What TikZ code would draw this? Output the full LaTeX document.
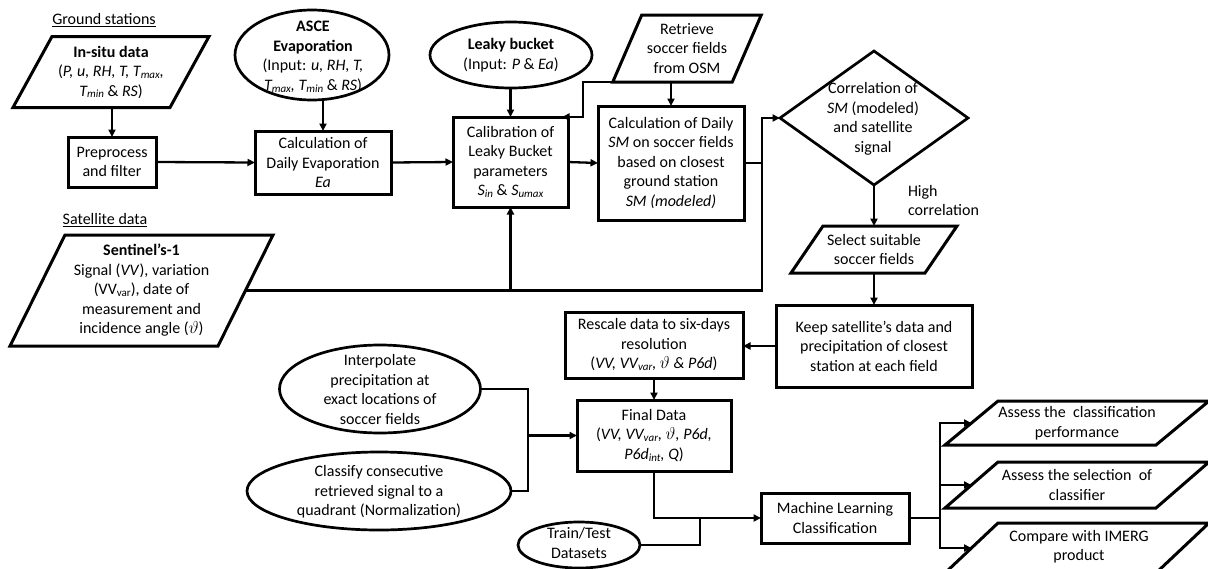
\documentclass[tikz,border=0pt]{standalone}
\usepackage{fontspec}
\setmainfont{Carlito}
\usetikzlibrary{shapes.geometric,arrows.meta,calc}

% small lowered index, as in T_max or VV_var
\newcommand\lowidx[1]{\raisebox{-0.25ex}{\fontsize{11}{11}\selectfont #1}}

\tikzset{
  every node/.style={font=\fontsize{16}{19.5}\selectfont, inner sep=0pt, outer sep=0pt},
  box/.style={draw, line width=3pt, rectangle, align=center},
  oval/.style={draw, line width=2.7pt, ellipse},
  rhomb/.style={draw, line width=2.7pt, diamond},
  pbody/.style={rectangle, align=center},
  lbl/.style={align=center},
  pedge/.style={draw, line width=3pt, line join=miter},
  conn/.style={line width=2.3pt},
  arr/.style={conn, -{Triangle[length=7.5pt,width=7pt]}},
}

% outline of a slanted (parallelogram) box around a rectangular body node
\newcommand\slantbox[2]{%
  \path[pedge] ([xshift=#2]#1.north west) -- ([xshift=#2]#1.north east)
    -- ([xshift=-#2]#1.south east) -- ([xshift=-#2]#1.south west) -- cycle;}

\begin{document}
\begin{tikzpicture}[x=1pt,y=-1pt]
\useasboundingbox (0,0) rectangle (1208,568);

% section titles
\node (gs) at (104,20) {\underline{Ground stations}};
\node (sd) at (105,220) {\underline{Satellite data}};

% ground station branch
\node[pbody, minimum width=157pt, minimum height=71pt] (insitu) at (111,72)
  {\textbf{In-situ data}\\(\textit{P, u, RH, T, T\lowidx{max},}\\\textit{T\lowidx{min}} \& \textit{RS})};
\slantbox{insitu}{19.5pt}

\node[box, minimum width=88pt, minimum height=50pt] (pre) at (112,162) {Preprocess\\and filter};

\node[oval, minimum width=154pt, minimum height=90pt] (asce) at (312,55) {};
\node[lbl] (ascet) at (313,57) {\textbf{ASCE}\\\textbf{Evaporation}\\(Input: \textit{u, RH, T,}\\\textit{T\lowidx{max}, T\lowidx{min}} \& \textit{RS})};

\node[box, minimum width=136pt, minimum height=63pt] (calc) at (323,162.5)
  {Calculation of\\Daily Evaporation\\\textit{Ea}};

\node[oval, minimum width=162pt, minimum height=66pt] (leaky) at (511,55) {};
\node[lbl] (leakyt) at (511,55) {\textbf{Leaky bucket}\\(Input: \textit{P} \& \textit{Ea})};

\node[box, minimum width=115pt, minimum height=90pt] (calib) at (510.5,162)
  {Calibration of\\Leaky Bucket\\parameters\\\textit{S\lowidx{in}} \& \textit{S\lowidx{umax}}};

\node[pbody, minimum width=119.5pt, minimum height=67pt] (osm) at (687,48.5)
  {Retrieve\\soccer fields\\from OSM};
\slantbox{osm}{14.5pt}

\node[box, minimum width=146pt, minimum height=114pt] (smcalc) at (671,163)
  {Calculation of Daily\\\textit{SM} on soccer fields\\based on closest\\ground station\\\textit{SM (modeled)}};

\node[rhomb, minimum width=188pt, minimum height=134pt] (corr) at (874,118) {};
\node[lbl] (corrt) at (873,119) {Correlation of\\\textit{SM} (modeled)\\and satellite\\signal};

\node[align=left, anchor=west] (hc) at (908,200.5) {High\\correlation};

\node[pbody, minimum width=134pt, minimum height=47pt] (select) at (874,249.5)
  {Select suitable\\soccer fields};
\slantbox{select}{16pt}

% satellite branch
\node[pbody, minimum width=208pt, minimum height=111pt] (sent) at (141.5,290.5)
  {\textbf{Sentinel’s-1}\\Signal (\textit{VV}), variation\\(VV\lowidx{var}), date of\\measurement and\\incidence angle ($\vartheta$)};
\slantbox{sent}{27.5pt}

\node[box, minimum width=196pt, minimum height=82pt] (keep) at (874,346)
  {Keep satellite’s data and\\precipitation of closest\\station at each field};

\node[box, minimum width=178pt, minimum height=66pt] (rescale) at (654,345)
  {Rescale data to six-days\\resolution\\(\textit{VV, VV\lowidx{var}, $\vartheta$ \& P6d})};

\node[box, minimum width=154pt, minimum height=71pt] (final) at (654,435.5)
  {Final Data\\(\textit{VV, VV\lowidx{var}, $\vartheta$, P6d,}\\\textit{P6d\lowidx{int}, Q})};

\node[oval, minimum width=201pt, minimum height=88pt] (interp) at (380,389) {};
\node[lbl] (interpt) at (380,389.5) {Interpolate\\precipitation at\\exact locations of\\soccer fields};

\node[oval, minimum width=264pt, minimum height=78pt] (classify) at (379,491) {};
\node[lbl] (classifyt) at (379,492) {Classify consecutive\\retrieved signal to a\\quadrant (Normalization)};

\node[oval, minimum width=122pt, minimum height=46pt] (train) at (579,545) {};
\node[lbl] (traint) at (579,543) {Train/Test\\Datasets};

\node[box, minimum width=148pt, minimum height=50pt] (ml) at (835,518)
  {Machine Learning\\Classification};

\node[pbody, minimum width=211pt, minimum height=44pt] (out1) at (1077,423)
  {Assess the\ \ classification\\performance};
\slantbox{out1}{26.5pt}
\node[pbody, minimum width=211pt, minimum height=46pt] (out2) at (1077,485)
  {Assess the selection\ \ of\\classifier};
\slantbox{out2}{26.5pt}
% last output runs past the lower edge of the page
\node[pbody, minimum width=211pt, minimum height=50pt] (out3) at (1077,548) {};
\slantbox{out3}{26.5pt}
\node[lbl] (out3t) at (1079,546.5) {Compare with IMERG\\product};

% junction points
\coordinate (bus) at ([xshift=18pt]smcalc.east);
\coordinate (jin) at ([xshift=-49pt]final.west);
\coordinate (jtr) at ([xshift=-61pt]ml.west);
\coordinate (jout) at ([xshift=31pt]ml.east);
\coordinate (osmc) at ([xshift=-14.5pt]osm.south west);

% connectors
\draw[arr] (pre.north |- insitu.south) -- (pre.north);
\draw[arr] (pre.east) -- (calc.west);
\draw[arr] (calc.north |- asce.south) -- (calc.north);
\draw[arr] (calc.east) -- (calib.west);
\draw[arr] (calib.north |- leaky.south) -- (calib.north);
\draw[arr] (osmc) -| ([xshift=15pt]calib.north east) -- ([xshift=-6pt]calib.north east);
\draw[arr] (smcalc.north |- osm.south) -- (smcalc.north);
\draw[arr] (calib.east) -- (smcalc.west);
\draw[conn] (smcalc.east) -- (bus);
\draw[arr] (sent.east) -| (bus |- corr.west) -- (corr.west);
\draw[arr] (calib.south |- sent.east) -- (calib.south);
\draw[arr] (corr.south) -- (select.north);
\draw[arr] (select.south) -- (keep.north);
\draw[arr] (keep.west) -- (keep.west -| rescale.east);
\draw[arr] (rescale.south) -- (final.north);
\draw[conn] (interp.east) -| (jin) |- (classify.east);
\draw[arr] (jin) -- (final.west);
\draw[arr] (final.south) |- (ml.west);
\draw[conn] (train.east) -| (jtr);
\draw[conn] (ml.east) -- (jout);
\draw[arr] (jout) |- (out1.west);
\draw[arr] (jout) |- (out2.west);
\draw[arr] (jout) |- (out3.west);
\end{tikzpicture}
\end{document}
